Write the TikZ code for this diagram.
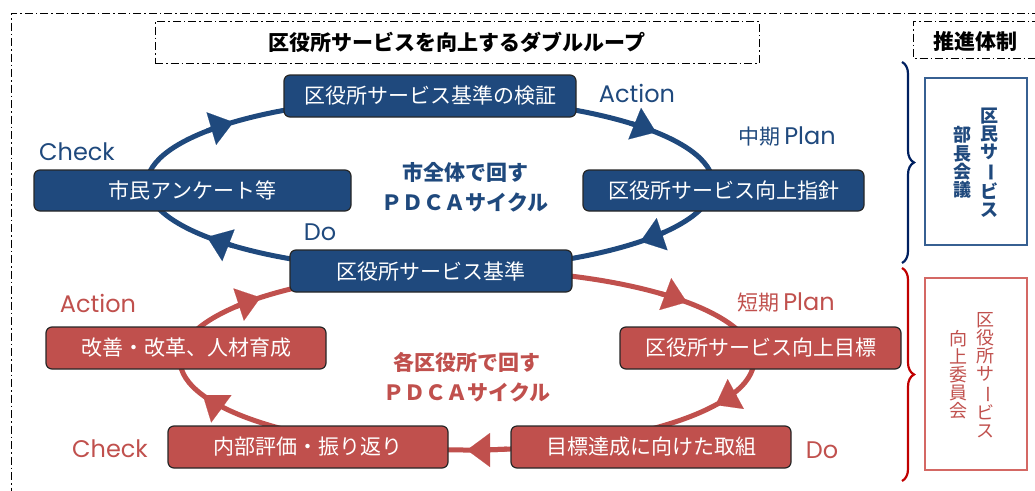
\documentclass[tikz,border=0pt]{standalone}
\usepackage{fontspec}
\usepackage{graphicx}
\setmainfont{Noto Sans CJK JP}
\newfontfamily\lat{Poppins}
\usetikzlibrary{arrows.meta,decorations.pathreplacing}
\definecolor{pblue}{RGB}{31,73,125}
\definecolor{pred}{RGB}{192,80,77}
\definecolor{braceblue}{RGB}{0,32,96}
\definecolor{bracered}{RGB}{192,0,0}
\definecolor{frameblue}{RGB}{55,96,146}
\definecolor{framered}{RGB}{212,104,100}
\newcommand{\vchoon}{\rotatebox[origin=c]{-90}{ー}}
\newcommand{\arrowon}[6]{%
  \draw[line width=5pt, #1, -{Triangle[length=23pt,width=34pt,line width=0.1pt]}]
    ({#2+#4*cos(#6-8)},{#3+#5*sin(#6-8)}) arc[start angle=#6-8, end angle=#6, x radius=#4, y radius=#5];}
\begin{document}
\begin{tikzpicture}[x=1pt,y=-1pt,
  dashdot/.style={line width=1pt, dash pattern=on 8pt off 3pt on 1.5pt off 3pt},
  boxtext/.style={font=\fontsize{21}{21}\selectfont, text=white},
  bbox/.style={draw=black!85, line width=1.2pt, rounded corners=6pt, fill=pblue, boxtext, minimum height=42pt, inner sep=0pt},
  rbox/.style={bbox, fill=pred},
  lab/.style={font=\lat\fontsize{24}{24}\selectfont, inner sep=0pt},
  ctext/.style={font=\bfseries\fontsize{21}{30}\selectfont, align=center, inner sep=0pt},
  vtext/.style={align=center, inner sep=0pt},
  loopline/.style={line width=5pt},
  bracestyle/.style={decorate, decoration={brace, amplitude=12pt}, line width=2.2pt}
]
\useasboundingbox (0,0) rectangle (1035,490);

% outer frame
\draw[dashdot] (1040,13) -- (11,13) -- (11,495);

% title boxes
\node[dashdot, draw, minimum width=604pt, minimum height=42pt, inner sep=0pt,
  font=\bfseries\fontsize{21}{21}\selectfont] (title) at (457,42) {区役所サービスを向上するダブルループ};
\draw[dashdot] (1040,21) -- (913,21) -- (913,58) -- (1040,58);
\node[font=\bfseries\fontsize{21}{21}\selectfont, inner sep=0pt] (suishin) at (975,41) {推進体制};

% loops
\draw[loopline, pblue] (430,184) ellipse [x radius=283, y radius=86];
\draw[loopline, pred] (467,360) ellipse [x radius=287, y radius=90];
\arrowon{pblue}{430}{184}{283}{86}{226}
\arrowon{pblue}{430}{184}{283}{86}{323}
\arrowon{pblue}{430}{184}{283}{86}{42}
\arrowon{pblue}{430}{184}{283}{86}{142}
\arrowon{pred}{467}{360}{287}{90}{224}
\arrowon{pred}{467}{360}{287}{90}{320}
\arrowon{pred}{467}{360}{287}{90}{30}
\arrowon{pred}{467}{360}{287}{90}{90}
\arrowon{pred}{467}{360}{287}{90}{157}

% blue boxes
\node[bbox, minimum width=292pt] (kensho) at (430,96) {区役所サービス基準の検証};
\node[bbox, minimum width=317pt, minimum height=41pt] (shimin) at (192.5,190.5) {市民アンケート等};
\node[bbox, minimum width=281pt, minimum height=41pt] (shishin) at (723.5,190.5) {区役所サービス向上指針};
\node[bbox, minimum width=282pt] (kijun) at (431,271) {区役所サービス基準};

% red boxes
\node[rbox, minimum width=280pt] (kaizen) at (186,348) {改善・改革、人材育成};
\node[rbox, minimum width=281pt] (mokuhyo) at (760.5,348) {区役所サービス向上目標};
\node[rbox, minimum width=280pt] (naibu) at (308,447) {内部評価・振り返り};
\node[rbox, minimum width=280pt] (torikumi) at (651,447) {目標達成に向けた取組};

% labels blue
\node[lab, text=pblue] (bAction) at (637,93) {Action};
\node[lab, text=pblue] (bPlan) at (787,136) {{\rmfamily\fontsize{21}{21}\selectfont 中期}\,Plan};
\node[lab, text=pblue] (bCheck) at (77,152) {Check};
\node[lab, text=pblue] (bDo) at (320,232) {Do};
\node[ctext, text=pblue] (bcenter) at (465,187) {市全体で回す\\ＰＤＣＡサイクル};

% labels red
\node[lab, text=pred] (rAction) at (98,303) {Action};
\node[lab, text=pred] (rPlan) at (786,302) {{\rmfamily\fontsize{21}{21}\selectfont 短期}\,Plan};
\node[lab, text=pred] (rCheck) at (110,449) {Check};
\node[lab, text=pred] (rDo) at (822,450) {Do};
\node[ctext, text=pred] (rcenter) at (467,377) {各区役所で回す\\ＰＤＣＡサイクル};

% braces
\draw[bracestyle, braceblue] (902,62) -- (902,263);
\draw[bracestyle, bracered] (902,268) -- (902,481);

% right frames
\node[draw=frameblue, line width=1.6pt, minimum width=102pt, minimum height=167pt, inner sep=0pt] (bframe) at (976,161.5) {};
\node[draw=framered, line width=1.6pt, minimum width=102pt, minimum height=192pt, inner sep=0pt] (rframe) at (976,374) {};
\node[vtext, text=pblue, font=\bfseries\fontsize{18}{18.2}\selectfont] (bv1) at (989,162.5) {区\\民\\サ\\\vchoon\\ビ\\ス};
\node[vtext, text=pblue, font=\bfseries\fontsize{18}{18.2}\selectfont] (bv2) at (962,162.5) {部\\長\\会\\議};
\node[vtext, text=pred, font=\fontsize{18}{18}\selectfont] (rv1) at (985,375) {区\\役\\所\\サ\\\vchoon\\ビ\\ス};
\node[vtext, text=pred, font=\fontsize{18}{18}\selectfont] (rv2) at (958,375) {向\\上\\委\\員\\会};
\end{tikzpicture}
\end{document}
